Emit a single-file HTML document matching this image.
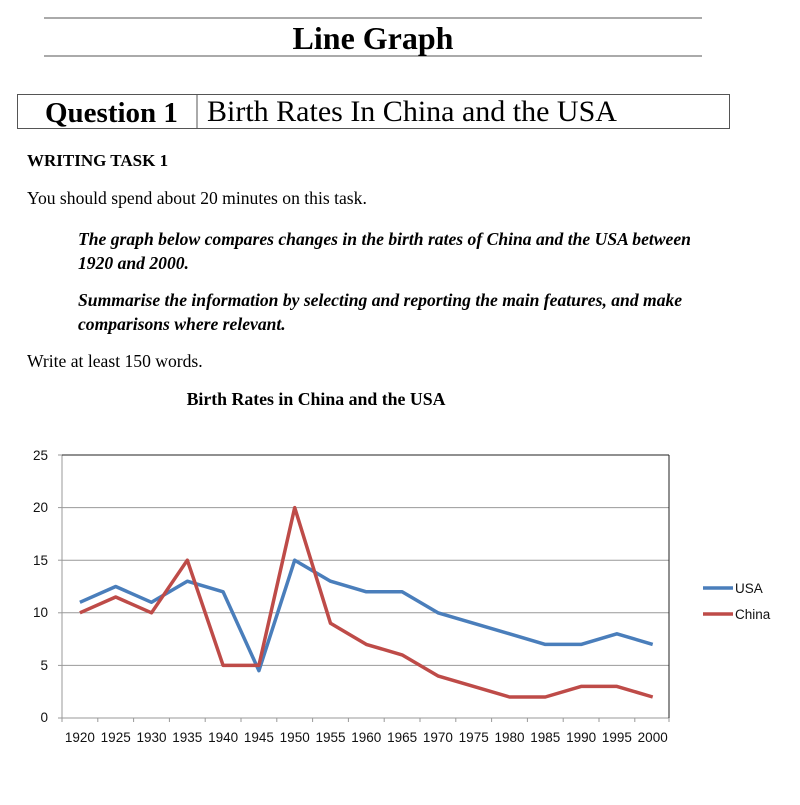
<!DOCTYPE html>
<html><head><meta charset="utf-8"><style>
body{margin:0;background:#fff;width:800px;height:800px;overflow:hidden}
</style></head><body>
<svg width="800" height="800" xmlns="http://www.w3.org/2000/svg" font-family="Liberation Serif, serif">
<line x1="44" y1="18" x2="702" y2="18" stroke="#555" stroke-width="1"/>
<line x1="44" y1="56" x2="702" y2="56" stroke="#555" stroke-width="1"/>
<text x="373" y="49" font-size="32" font-weight="bold" text-anchor="middle">Line Graph</text>
<rect x="17.5" y="94.5" width="712" height="34" fill="none" stroke="#555"/>
<line x1="197" y1="94" x2="197" y2="129" stroke="#555"/>
<text x="45" y="122" font-size="29" font-weight="bold">Question 1</text>
<text x="207" y="121" font-size="30">Birth Rates In China and the USA</text>
<text x="27" y="166" font-size="17" font-weight="bold">WRITING TASK 1</text>
<text x="27" y="204" font-size="17.6">You should spend about 20 minutes on this task.</text>
<text x="78" y="245" font-size="17.6" font-weight="bold" font-style="italic">The graph below compares changes in the birth rates of China and the USA between</text>
<text x="78" y="269" font-size="17.6" font-weight="bold" font-style="italic">1920 and 2000.</text>
<text x="78" y="306" font-size="17.6" font-weight="bold" font-style="italic">Summarise the information by selecting and reporting the main features, and make</text>
<text x="78" y="330" font-size="17.6" font-weight="bold" font-style="italic">comparisons where relevant.</text>
<text x="27" y="367" font-size="17.6">Write at least 150 words.</text>
<text x="316" y="405" font-size="17.8" font-weight="bold" text-anchor="middle">Birth Rates in China and the USA</text>
<g stroke="#999" stroke-width="1">
<line x1="62" y1="507.6" x2="669" y2="507.6"/>
<line x1="62" y1="560.2" x2="669" y2="560.2"/>
<line x1="62" y1="612.8" x2="669" y2="612.8"/>
<line x1="62" y1="665.4" x2="669" y2="665.4"/>
<line x1="62" y1="718" x2="669" y2="718"/>
<line x1="62" y1="455" x2="62" y2="718"/>
</g>
<line x1="62" y1="455" x2="669" y2="455" stroke="#222"/>
<line x1="669" y1="455" x2="669" y2="718" stroke="#222"/>
<g stroke="#999">
<line x1="62" y1="718" x2="62" y2="722"/><line x1="97.8" y1="718" x2="97.8" y2="722"/><line x1="133.6" y1="718" x2="133.6" y2="722"/><line x1="169.4" y1="718" x2="169.4" y2="722"/><line x1="205.2" y1="718" x2="205.2" y2="722"/><line x1="241" y1="718" x2="241" y2="722"/><line x1="276.8" y1="718" x2="276.8" y2="722"/><line x1="312.6" y1="718" x2="312.6" y2="722"/><line x1="348.4" y1="718" x2="348.4" y2="722"/><line x1="384.2" y1="718" x2="384.2" y2="722"/><line x1="420" y1="718" x2="420" y2="722"/><line x1="455.8" y1="718" x2="455.8" y2="722"/><line x1="491.6" y1="718" x2="491.6" y2="722"/><line x1="527.4" y1="718" x2="527.4" y2="722"/><line x1="563.2" y1="718" x2="563.2" y2="722"/><line x1="599" y1="718" x2="599" y2="722"/><line x1="634.8" y1="718" x2="634.8" y2="722"/><line x1="669" y1="718" x2="669" y2="722"/>
<line x1="58" y1="455" x2="62" y2="455"/><line x1="58" y1="507.6" x2="62" y2="507.6"/><line x1="58" y1="560.2" x2="62" y2="560.2"/><line x1="58" y1="612.8" x2="62" y2="612.8"/><line x1="58" y1="665.4" x2="62" y2="665.4"/><line x1="58" y1="718" x2="62" y2="718"/>
</g>
<g font-family="Liberation Sans, sans-serif" font-size="13.5" fill="#111" text-anchor="end">
<text x="48" y="460">25</text><text x="48" y="512">20</text><text x="48" y="565">15</text><text x="48" y="617">10</text><text x="48" y="670">5</text><text x="48" y="722">0</text>
</g>
<g font-family="Liberation Sans, sans-serif" font-size="13.5" fill="#111" text-anchor="middle">
<text x="79.9" y="742">1920</text><text x="115.7" y="742">1925</text><text x="151.5" y="742">1930</text><text x="187.3" y="742">1935</text><text x="223.1" y="742">1940</text><text x="258.9" y="742">1945</text><text x="294.7" y="742">1950</text><text x="330.5" y="742">1955</text><text x="366.3" y="742">1960</text><text x="402.1" y="742">1965</text><text x="437.9" y="742">1970</text><text x="473.7" y="742">1975</text><text x="509.5" y="742">1980</text><text x="545.3" y="742">1985</text><text x="581.1" y="742">1990</text><text x="616.9" y="742">1995</text><text x="652.7" y="742">2000</text>
</g>
<polyline fill="none" stroke="#4a7ebb" stroke-width="3.5" stroke-linejoin="round" points="79.9,602.3 115.7,586.5 151.5,602.3 187.3,581.2 223.1,591.8 258.9,670.7 294.7,560.2 330.5,581.2 366.3,591.8 402.1,591.8 437.9,612.8 473.7,623.3 509.5,633.8 545.3,644.4 581.1,644.4 616.9,633.8 652.7,644.4"/>
<polyline fill="none" stroke="#be4b48" stroke-width="3.5" stroke-linejoin="round" points="79.9,612.8 115.7,597 151.5,612.8 187.3,560.2 223.1,665.4 258.9,665.4 294.7,507.6 330.5,623.3 366.3,644.4 402.1,654.9 437.9,675.9 473.7,686.4 509.5,697 545.3,697 581.1,686.4 616.9,686.4 652.7,697"/>
<line x1="703" y1="588" x2="733" y2="588" stroke="#4a7ebb" stroke-width="3.5"/>
<line x1="703" y1="614" x2="733" y2="614" stroke="#be4b48" stroke-width="3.5"/>
<g font-family="Liberation Sans, sans-serif" font-size="13.5" fill="#111">
<text x="735" y="593">USA</text><text x="735" y="619">China</text>
</g>
</svg>
</body></html>
